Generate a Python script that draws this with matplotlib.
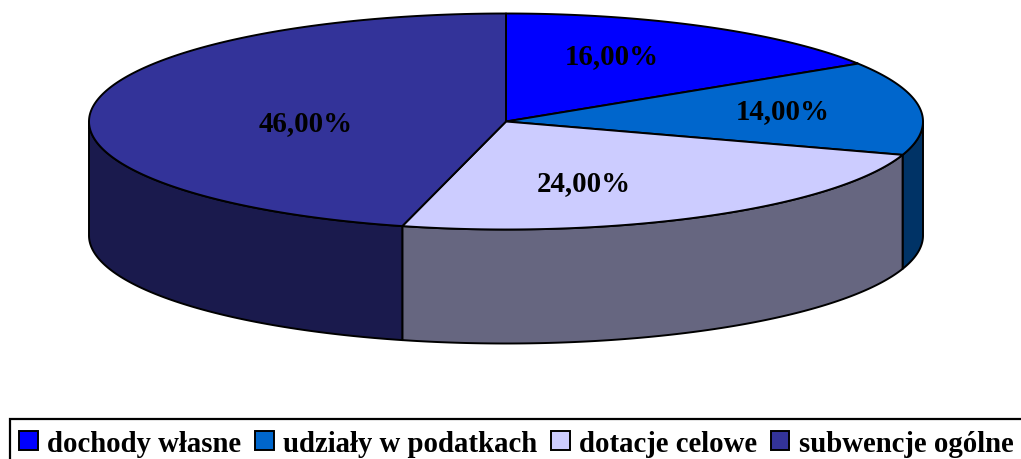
import numpy as np
import matplotlib
matplotlib.use("Agg")
import matplotlib.pyplot as plt
from matplotlib.patches import Polygon, Patch, Rectangle

categories = ["dochody własne", "udziały w podatkach", "dotacje celowe", "subwencje ogólne"]
values = [16.0, 14.0, 24.0, 46.0]
labels = ["16,00%", "14,00%", "24,00%", "46,00%"]
top_colors = ["#0000FF", "#0066CC", "#CCCCFF", "#333399"]
side_colors = ["#000080", "#003366", "#666680", "#1A1A4D"]
label_pos = [(612, 57), (783, 112), (584, 184), (306, 124)]

W, H = 1021, 460
cx, cy, rx, ry, depth = 506.0, 122.5, 417.0, 108.0, 114.0
EDGE = "#000000"
LW = 1.4

plt.rcParams["font.family"] = ["Liberation Serif", "DejaVu Serif"]
fig = plt.figure(figsize=(W / 100, H / 100), dpi=100)
ax = fig.add_axes([0, 0, 1, 1])
ax.set_xlim(0, W)
ax.set_ylim(H, 0)
ax.axis("off")


def rim(a0, a1, n=240):
    t = np.linspace(a0, a1, n)
    return cx + rx * np.sin(t), cy - ry * np.cos(t)


fracs = np.array(values) / sum(values) * 2 * np.pi
starts = np.concatenate([[0], np.cumsum(fracs)[:-1]])
ends = np.cumsum(fracs)

# Outer walls: only the arc facing the viewer (90 deg to 270 deg)
for a0, a1, col in zip(starts, ends, side_colors):
    lo, hi = max(a0, np.pi / 2), min(a1, 3 * np.pi / 2)
    if hi <= lo:
        continue
    x, y = rim(lo, hi)
    pts = np.column_stack([np.r_[x, x[::-1]], np.r_[y, y[::-1] + depth]])
    ax.add_patch(Polygon(pts, closed=True, fc=col, ec=EDGE, lw=LW, joinstyle="round", zorder=2))

# Top face slices
for a0, a1, col in zip(starts, ends, top_colors):
    x, y = rim(a0, a1)
    pts = np.column_stack([np.r_[cx, x], np.r_[cy, y]])
    ax.add_patch(Polygon(pts, closed=True, fc=col, ec=EDGE, lw=LW, joinstyle="round", zorder=3))

for (lx, ly), s in zip(label_pos, labels):
    ax.text(lx, ly, s, ha="center", va="center", fontsize=20.8, fontweight="bold",
            color="black", zorder=4)

# Legend frame runs off the right and bottom edges of the canvas
ax.add_patch(Rectangle((10, 419.5), 1030, 60, fc="white", ec="black", lw=1.6, zorder=1))

handles = [Patch(fc=c, ec="black", lw=1.4) for c in top_colors]
leg = ax.legend(handles, categories, ncol=4, loc="lower left",
                bbox_to_anchor=(13.5 / W, -0.008), bbox_transform=ax.transAxes,
                prop={"size": 20.7, "weight": "bold"},
                frameon=False,
                handlelength=0.65, handleheight=0.65, handletextpad=0.33,
                columnspacing=0.47, borderpad=0.2, borderaxespad=0)

fig.savefig("out.png", dpi=100, facecolor="white")
